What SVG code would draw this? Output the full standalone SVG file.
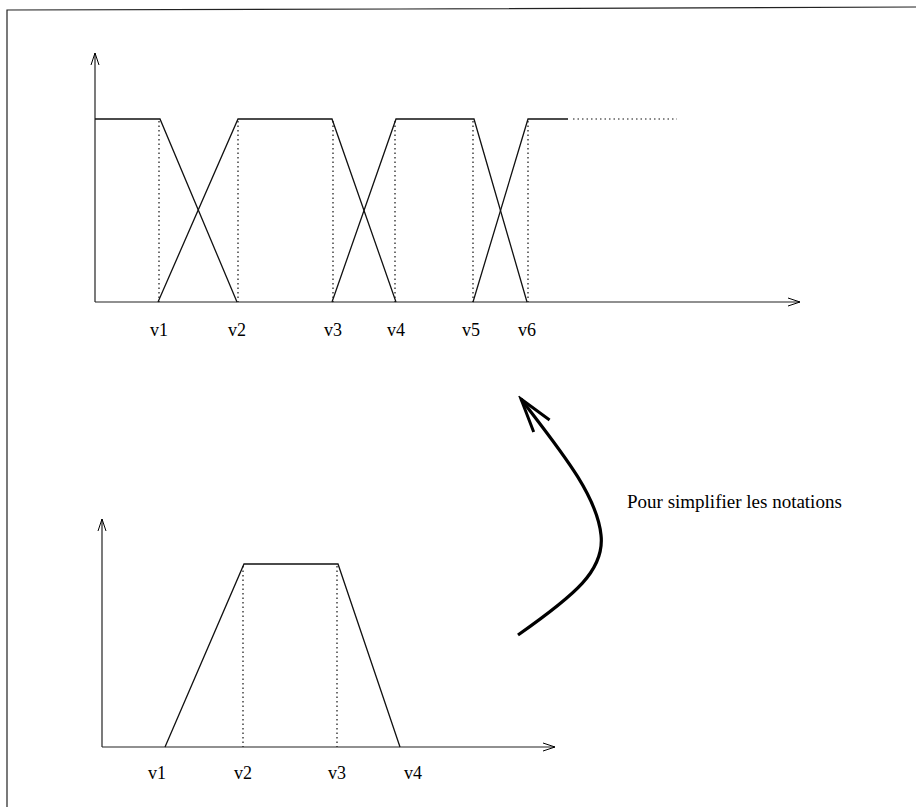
<svg xmlns="http://www.w3.org/2000/svg" width="916" height="807" viewBox="0 0 916 807">
<defs>
<marker id="ah" markerWidth="14" markerHeight="10" refX="13" refY="5" orient="auto" markerUnits="userSpaceOnUse">
<path d="M1,1 L13,5 L1,9" fill="none" stroke="#000" stroke-width="1"/>
</marker>
<marker id="big" markerWidth="40" markerHeight="40" refX="36" refY="20" orient="auto" markerUnits="userSpaceOnUse">
<path d="M2,10 L36,20 L2,30" fill="none" stroke="#000" stroke-width="3"/>
</marker>
</defs>
<style>
.ax{fill:none;stroke:#222;stroke-width:1.2}
.ln{fill:none;stroke:#111;stroke-width:1.3}
.dt{fill:none;stroke:#111;stroke-width:1.2;stroke-dasharray:1.5 3}
.lb{font-family:"Liberation Serif",serif;font-size:18px;fill:#000}
.tx{font-family:"Liberation Serif",serif;font-size:19px;fill:#000}
</style>
<rect width="916" height="807" fill="#fff"/>
<g id="frame">
<polyline class="ax" points="7,807 7,10 400,9 916,7" stroke-width="1.6"/>
</g>
<g id="top-plot">
<line class="ax" x1="95" y1="302" x2="95" y2="53" marker-end="url(#ah)"/>
<line class="ax" x1="95" y1="302" x2="800" y2="302" marker-end="url(#ah)"/>
<polyline class="ln" points="95,119 160,119 237,302"/>
<polyline class="ln" points="158,302 238,119 332,119 396,302"/>
<polyline class="ln" points="332,302 396,119 474,119 527,302"/>
<polyline class="ln" points="473,302 528,119 568,119"/>
<line class="dt" x1="573" y1="119" x2="677" y2="119"/>
<line class="dt" x1="159" y1="121" x2="159" y2="302"/>
<line class="dt" x1="238" y1="121" x2="238" y2="302"/>
<line class="dt" x1="333" y1="121" x2="333" y2="302"/>
<line class="dt" x1="395" y1="121" x2="395" y2="302"/>
<line class="dt" x1="473" y1="121" x2="473" y2="302"/>
<line class="dt" x1="528" y1="121" x2="528" y2="302"/>
<text class="lb" x="150" y="336">v1</text>
<text class="lb" x="228" y="336">v2</text>
<text class="lb" x="324" y="336">v3</text>
<text class="lb" x="387" y="336">v4</text>
<text class="lb" x="462" y="336">v5</text>
<text class="lb" x="518" y="336">v6</text>
</g>
<g id="bottom-plot">
<line class="ax" x1="102" y1="747" x2="102" y2="519" marker-end="url(#ah)"/>
<line class="ax" x1="102" y1="747" x2="555" y2="747" marker-end="url(#ah)"/>
<polyline class="ln" points="165,747 244,564 338,564 400,747"/>
<line class="dt" x1="243" y1="566" x2="243" y2="747"/>
<line class="dt" x1="337" y1="566" x2="337" y2="747"/>
<text class="lb" x="148" y="779">v1</text>
<text class="lb" x="234" y="779">v2</text>
<text class="lb" x="328" y="779">v3</text>
<text class="lb" x="404" y="779">v4</text>
</g>
<g id="connectors">
<path d="M518,635 C575,595 605,570 601,535 C597,495 560,450 521,399" fill="none" stroke="#000" stroke-width="3.2" marker-end="url(#big)"/>
</g>
<g id="note">
<text class="tx" x="627" y="508">Pour simplifier les notations</text>
</g>
</svg>
